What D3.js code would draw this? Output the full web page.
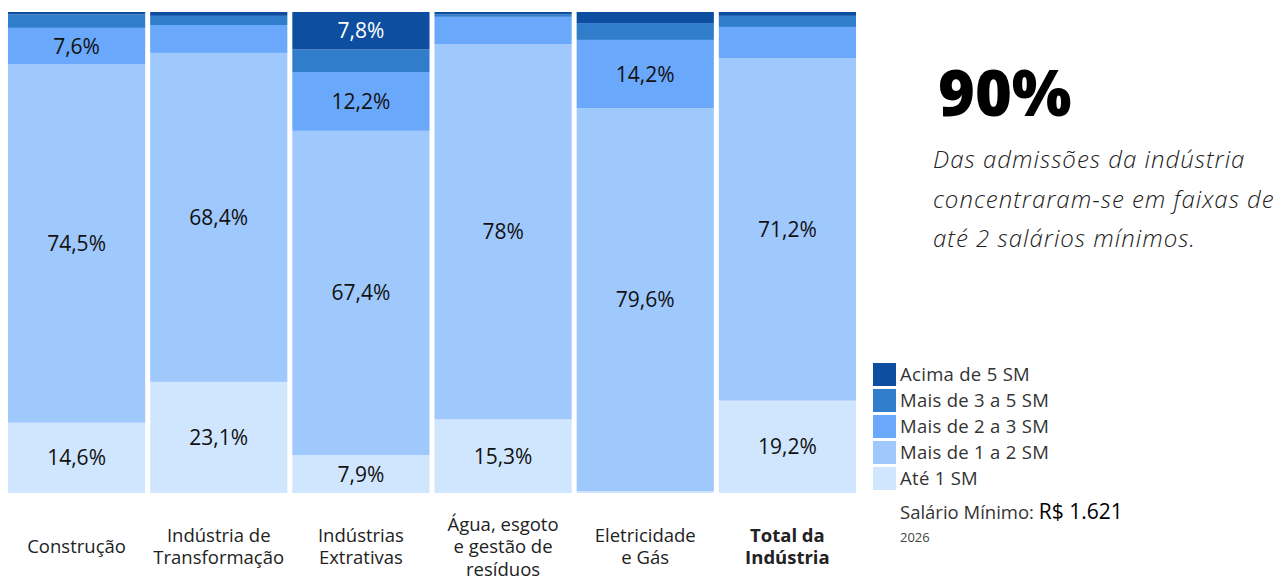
<!DOCTYPE html>
<html>
<head>
<meta charset="utf-8">
<script src="https://cdn.jsdelivr.net/npm/d3@7"></script>
<style>
  body { margin: 0; background: #fff; }
  svg { display: block; font-family: "Open Sans", sans-serif; }
</style>
</head>
<body>
<svg id="chart" width="1284" height="579"></svg>
<script>
// faixas salariais por setor (% das admissões)
const categories = ["Construção", "Indústria de Transformação", "Indústrias Extrativas", "Água, esgoto e gestão de resíduos", "Eletricidade e Gás", "Total da Indústria"];
const categoryLines = [["Construção"], ["Indústria de", "Transformação"], ["Indústrias", "Extrativas"], ["Água, esgoto", "e gestão de", "resíduos"], ["Eletricidade", "e Gás"], ["Total da", "Indústria"]];
const ate1 = [14.6, 23.1, 7.9, 15.3, 0.4, 19.2];
const de1a2 = [74.5, 68.4, 67.4, 78.0, 79.6, 71.2];
const de2a3 = [7.6, 5.8, 12.2, 5.7, 14.2, 6.5];
const de3a5 = [2.8, 1.9, 4.7, 0.5, 3.5, 2.3];
const acima5 = [0.5, 0.8, 7.8, 0.5, 2.3, 0.8];
const legendLabels = ["Acima de 5 SM", "Mais de 3 a 5 SM", "Mais de 2 a 3 SM", "Mais de 1 a 2 SM", "Até 1 SM"];

const keys = ["ate1", "de1a2", "de2a3", "de3a5", "acima5"];
const colors = { ate1: "#d0e6fe", de1a2: "#9fc8fc", de2a3: "#6aa8fb", de3a5: "#2f7dcb", acima5: "#0d4ea0" };

const rows = categories.map((c, i) => ({
  cat: c, ate1: ate1[i], de1a2: de1a2[i], de2a3: de2a3[i], de3a5: de3a5[i], acima5: acima5[i]
}));

const svg = d3.select("#chart");

const x = d3.scaleBand().domain(categories).range([8, 856]).paddingInner(0.035);
const y = d3.scaleLinear().domain([0, 100]).range([493, 12]);

const stacked = d3.stack().keys(keys)(rows);

const layers = svg.selectAll(".layer")
  .data(stacked)
  .enter().append("g")
  .attr("class", "layer")
  .attr("fill", d => colors[d.key]);

layers.selectAll("rect")
  .data(d => d)
  .enter().append("rect")
  .attr("x", d => x(d.data.cat))
  .attr("width", x.bandwidth())
  .attr("y", d => y(d[1]))
  .attr("height", d => y(d[0]) - y(d[1]));

// rótulos dos segmentos
stacked.forEach(layer => {
  layer.forEach(d => {
    const v = d[1] - d[0];
    if (v < 7) return;
    svg.append("text")
      .attr("x", x(d.data.cat) + x.bandwidth() / 2)
      .attr("y", (y(d[0]) + y(d[1])) / 2)
      .attr("dy", "0.36em")
      .attr("text-anchor", "middle")
      .attr("font-size", "21px")
      .attr("fill", layer.key === "acima5" ? "#fff" : "#111")
      .text(d3.format(".1f")(v).replace(".0", "").replace(".", ",") + "%");
  });
});

// eixo x (rótulos em várias linhas)
categories.forEach((c, i) => {
  const lines = categoryLines[i];
  const lh = 22.5;
  const t = svg.append("text")
    .attr("x", x(c) + x.bandwidth() / 2)
    .attr("text-anchor", "middle")
    .attr("font-size", "18.5px")
    .attr("font-weight", i === categories.length - 1 ? "bold" : "normal")
    .attr("fill", "#222");
  lines.forEach((l, j) => {
    t.append("tspan")
      .attr("x", x(c) + x.bandwidth() / 2)
      .attr("y", 553 + (j - (lines.length - 1) / 2) * lh)
      .text(l);
  });
});

// destaque
svg.append("text")
  .attr("x", 938)
  .attr("y", 116)
  .attr("font-size", "63px")
  .attr("font-weight", 800)
  .attr("fill", "#000")
  .text("90%");

const note = ["Das admissões da indústria", "concentraram-se em faixas de", "até 2 salários mínimos."];
note.forEach((l, j) => {
  svg.append("text")
    .attr("x", 933)
    .attr("y", 168 + j * 39.5)
    .attr("font-size", "24px")
    .attr("letter-spacing", "1px")
    .attr("font-style", "italic")
    .attr("font-weight", 300)
    .attr("fill", "#222")
    .text(l);
});

// legenda
const leg = svg.append("g").attr("transform", "translate(873,363)");
legendLabels.forEach((l, j) => {
  leg.append("rect")
    .attr("x", 0).attr("y", j * 26)
    .attr("width", 23).attr("height", 23)
    .attr("fill", colors[keys[keys.length - 1 - j]]);
  leg.append("text")
    .attr("x", 27).attr("y", j * 26 + 18)
    .attr("font-size", "18.5px")
    .attr("letter-spacing", "0.3px")
    .attr("fill", "#333")
    .text(l);
});

const sm = svg.append("text").attr("x", 900).attr("y", 519).attr("font-size", "18.5px").attr("fill", "#333");
sm.append("tspan").text("Salário Mínimo: ");
sm.append("tspan").attr("font-size", "21px").attr("fill", "#000").text("R$ 1.621");
svg.append("text").attr("x", 900).attr("y", 542).attr("font-size", "13px").attr("fill", "#444").text("2026");
</script>
</body>
</html>
